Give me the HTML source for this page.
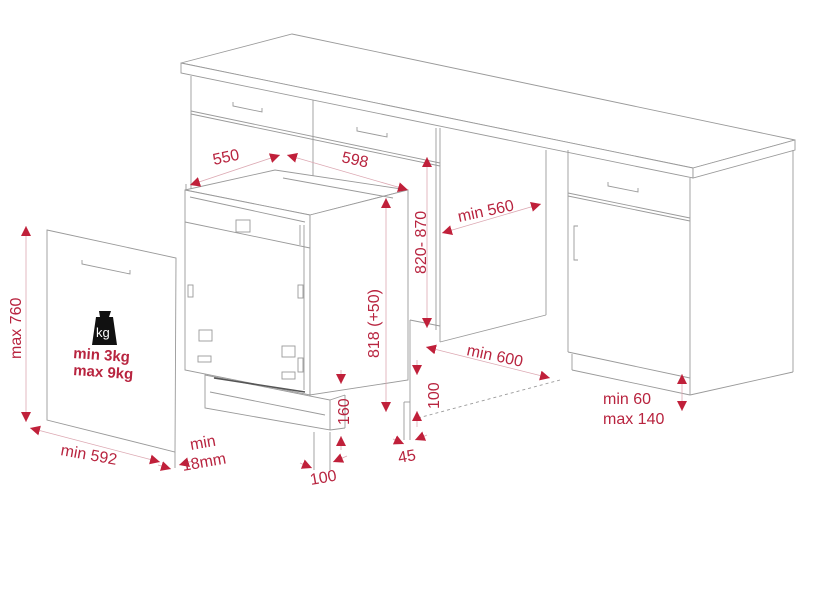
<!DOCTYPE html>
<html><head><meta charset="utf-8"><style>
html,body{margin:0;padding:0;background:#fff;}
svg{display:block;}
text{font-family:"Liberation Sans",sans-serif;fill:#b8243f;font-size:16px;}
</style></head><body>
<svg width="817" height="602" viewBox="0 0 817 602" xmlns="http://www.w3.org/2000/svg">
<defs>
<marker id="a" viewBox="0 0 10 10" refX="10" refY="5" markerWidth="10" markerHeight="10" markerUnits="userSpaceOnUse" orient="auto-start-reverse"><path d="M0,0 L10,5 L0,10 z" fill="#c0203a"/></marker>
</defs>
<g fill="none" stroke="#9a9a9a" stroke-width="0.9">
<!-- worktop -->
<polygon points="181,63 292,34 795,140 693,168" fill="#fff"/>
<polygon points="181,63 693,168 693,178 181,73" fill="#fff"/>
<polygon points="693,168 795,140 795,150 693,178" fill="#fff"/>
<!-- left cabinets -->
<line x1="191" y1="76" x2="191" y2="190"/>
<line x1="191" y1="111" x2="440" y2="163"/>
<line x1="191" y1="114" x2="440" y2="166"/>
<line x1="313" y1="100" x2="313" y2="178"/>
<line x1="440" y1="128" x2="440" y2="342"/>
<line x1="436" y1="128" x2="436" y2="330"/>
<path d="M233,102 l0,4 l29,6 l0,-4"/>
<path d="M357,127 l0,4 l30,6 l0,-4"/>
<line x1="546" y1="150" x2="546" y2="315"/>
<line x1="440" y1="342" x2="546" y2="315"/>
<line x1="410" y1="320" x2="440" y2="326"/>
<line x1="410" y1="320" x2="410" y2="402"/>
<line x1="404" y1="402" x2="410" y2="402"/>
<line x1="404" y1="402" x2="404" y2="440"/>
<line x1="410" y1="402" x2="410" y2="440"/>
<path d="M418,418 L560,380" stroke-dasharray="3,3"/>
<!-- right cabinet -->
<line x1="568" y1="150" x2="568" y2="352"/>
<line x1="690" y1="178" x2="690" y2="395"/>
<line x1="793" y1="150" x2="793" y2="372"/>
<line x1="690" y1="395" x2="793" y2="372"/>
<line x1="568" y1="193" x2="690" y2="218"/>
<line x1="568" y1="196" x2="690" y2="221"/>
<line x1="568" y1="352" x2="690" y2="378"/>
<line x1="572" y1="354" x2="572" y2="370"/>
<line x1="572" y1="370" x2="690" y2="395"/>
<path d="M608,182 l0,4 l30,6 l0,-4"/>
<path d="M578,226 l-4,0 l0,34 l4,0"/>
<!-- dishwasher -->
<polygon points="185,190 275,170 408,190 310,215" fill="#fff"/>
<polygon points="185,190 310,215 310,395 185,370" fill="#fff"/>
<polygon points="310,215 408,190 408,380 310,395" fill="#fff"/>
<line x1="190" y1="197" x2="305" y2="222"/>
<line x1="185" y1="222" x2="310" y2="248"/>
<rect x="236" y="220" width="14" height="12"/>
<line x1="304" y1="225" x2="304" y2="390"/>
<line x1="300" y1="225" x2="300" y2="245"/>
<path d="M283,178 l110,20"/>
<rect x="199" y="330" width="13" height="11"/>
<rect x="198" y="356" width="13" height="6"/>
<rect x="282" y="346" width="13" height="11"/>
<rect x="282" y="372" width="13" height="7"/>
<rect x="188" y="285" width="5" height="12"/>
<rect x="298" y="285" width="5" height="13"/>
<rect x="298" y="358" width="5" height="14"/>
<polygon points="205,375 330,400 330,430 205,408" fill="#fff"/>
<line x1="210" y1="392" x2="325" y2="415"/>
<line x1="214" y1="378" x2="305" y2="392" stroke="#555" stroke-width="1.5"/>
<line x1="330" y1="400" x2="345" y2="395"/>
<line x1="345" y1="395" x2="345" y2="428"/>
<line x1="330" y1="430" x2="345" y2="428"/>
<!-- door panel -->
<polygon points="47,230 176,258 175,452 47,420" fill="#fff"/>
<path d="M82,260 l0,4 l48,10 l0,-4"/>
<line x1="186" y1="184" x2="186" y2="190"/>
<line x1="175" y1="452" x2="175" y2="468"/>
<line x1="314" y1="432" x2="314" y2="470"/>
<line x1="330" y1="432" x2="330" y2="470"/>
</g>
<g stroke="#dca8b2" stroke-width="0.8" fill="none">
<line x1="190" y1="185" x2="280" y2="155" marker-start="url(#a)" marker-end="url(#a)"/>
<line x1="287" y1="155" x2="408" y2="190" marker-start="url(#a)" marker-end="url(#a)"/>
<line x1="427" y1="157" x2="427" y2="328" marker-start="url(#a)" marker-end="url(#a)"/>
<line x1="442" y1="233" x2="541" y2="204" marker-start="url(#a)" marker-end="url(#a)"/>
<line x1="386" y1="198" x2="386" y2="412" marker-start="url(#a)" marker-end="url(#a)"/>
<line x1="426" y1="347" x2="550" y2="378" marker-start="url(#a)" marker-end="url(#a)"/>
<line x1="682" y1="374" x2="682" y2="411" marker-start="url(#a)" marker-end="url(#a)"/>
<line x1="26" y1="226" x2="26" y2="422" marker-start="url(#a)" marker-end="url(#a)"/>
<line x1="30" y1="428" x2="160" y2="462" marker-start="url(#a)" marker-end="url(#a)"/>
<line x1="417" y1="360" x2="417" y2="375" marker-end="url(#a)"/>
<line x1="417" y1="427" x2="417" y2="411" marker-end="url(#a)"/>
<line x1="341" y1="370" x2="341" y2="384" marker-end="url(#a)"/>
<line x1="341" y1="450" x2="341" y2="436" marker-end="url(#a)"/>
<line x1="393" y1="439" x2="404" y2="444" marker-end="url(#a)"/>
<line x1="427" y1="435" x2="415" y2="440" marker-end="url(#a)"/>
<line x1="300" y1="463" x2="312" y2="468" marker-end="url(#a)"/>
<line x1="347" y1="456" x2="333" y2="462" marker-end="url(#a)"/>
<line x1="158" y1="465" x2="171" y2="469" marker-end="url(#a)"/>
<line x1="193" y1="461" x2="179" y2="465" marker-end="url(#a)"/>
</g>
<!-- labels -->
<text x="214" y="165" transform="rotate(-12 214 165)">550</text>
<text x="341" y="162" transform="rotate(12 341 162)">598</text>
<text transform="translate(426,274) rotate(-90)">820- 870</text>
<text x="459" y="222" transform="rotate(-12 459 222)">min 560</text>
<text transform="translate(379,358) rotate(-90)">818 (+50)</text>
<text x="466" y="355" transform="rotate(12 466 355)">min 600</text>
<text transform="translate(439,409) rotate(-90)">100</text>
<text transform="translate(349,425) rotate(-90)">160</text>
<text x="399" y="463" transform="rotate(-10 399 463)">45</text>
<text x="311" y="485" transform="rotate(-10 311 485)">100</text>
<text x="603" y="404">min 60</text>
<text x="603" y="424">max 140</text>
<text transform="translate(21,359) rotate(-90)">max 760</text>
<text x="60" y="455" transform="rotate(10 60 455)">min 592</text>
<text x="191" y="450" transform="rotate(-10 191 450)">min</text>
<text x="183" y="471" transform="rotate(-10 183 471)">18mm</text>
<!-- kg -->
<path d="M99,311 h12 l-2,6 h4 l4,28 h-25 l4,-28 h4 z" fill="#111"/>
<text x="96" y="337" style="fill:#fff;font-size:13px">kg</text>
<text x="73" y="358" style="font-weight:bold;font-size:15px" transform="rotate(4 73 358)">min  3kg</text>
<text x="73" y="375" style="font-weight:bold;font-size:15px" transform="rotate(4 73 375)">max 9kg</text>
</svg>
</body></html>
